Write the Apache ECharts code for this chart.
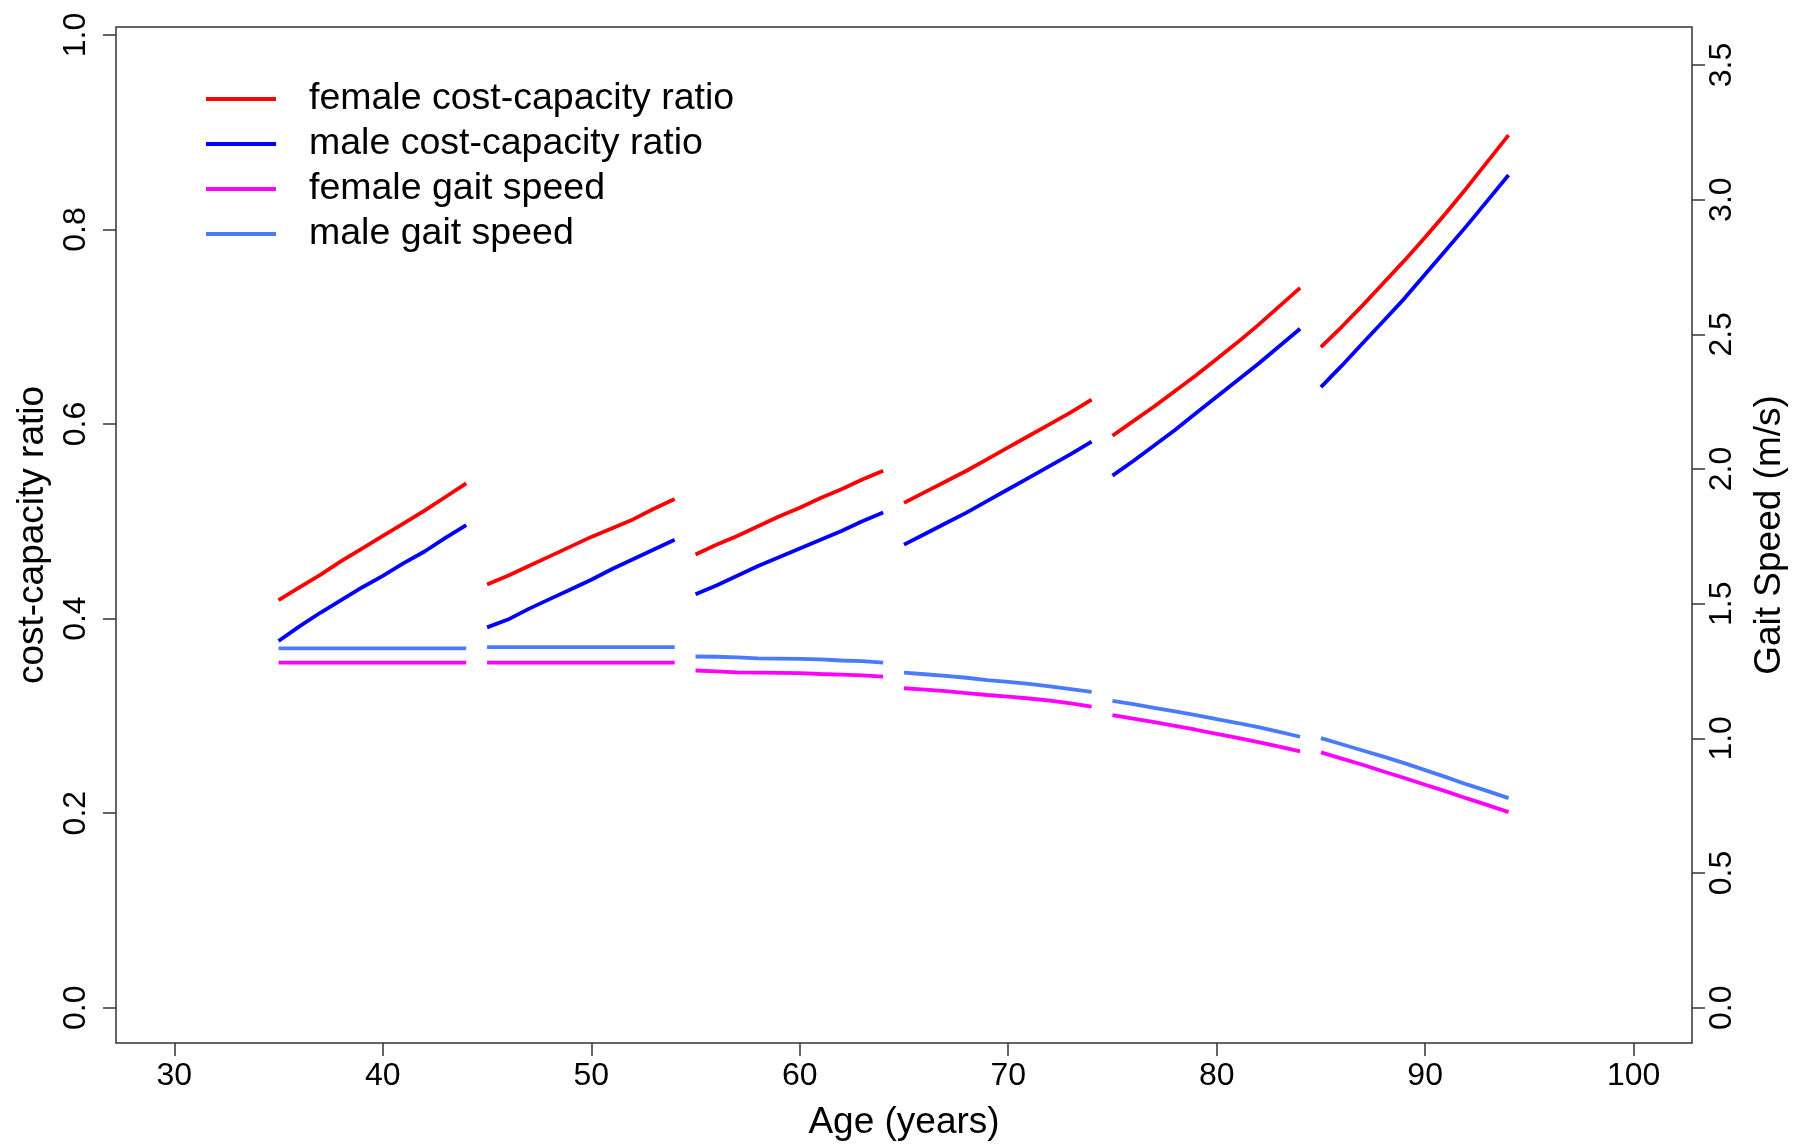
<!DOCTYPE html>
<html>
<head>
<meta charset="utf-8">
<script src="https://cdn.jsdelivr.net/npm/echarts@6/dist/echarts.min.js"></script>
<style>
html, body { margin: 0; padding: 0; background: #fff; }
#main { width: 1796px; height: 1146px; }
</style>
</head>
<body>
<div id="main"></div>
<script>
// ages, one point per year; each decade is drawn as its own piece
const ages = [
  35, 36, 37, 38, 39, 40, 41, 42, 43, 44,
  45, 46, 47, 48, 49, 50, 51, 52, 53, 54,
  55, 56, 57, 58, 59, 60, 61, 62, 63, 64,
  65, 66, 67, 68, 69, 70, 71, 72, 73, 74,
  75, 76, 77, 78, 79, 80, 81, 82, 83, 84,
  85, 86, 87, 88, 89, 90, 91, 92, 93, 94
];
const segmentStarts = [35, 45, 55, 65, 75, 85];

const femaleRatio = [
  0.419, 0.432, 0.445, 0.459, 0.472, 0.485, 0.498, 0.511, 0.525, 0.539,
  0.435, 0.444, 0.454, 0.464, 0.474, 0.484, 0.493, 0.502, 0.513, 0.523,
  0.466, 0.476, 0.485, 0.495, 0.505, 0.514, 0.524, 0.533, 0.543, 0.552,
  0.519, 0.530, 0.541, 0.552, 0.564, 0.576, 0.588, 0.600, 0.612, 0.625,
  0.588, 0.603, 0.618, 0.634, 0.650, 0.667, 0.684, 0.702, 0.721, 0.740,
  0.679, 0.700, 0.722, 0.745, 0.768, 0.792, 0.817, 0.843, 0.870, 0.897
];
const maleRatio = [
  0.377, 0.392, 0.406, 0.419, 0.432, 0.444, 0.457, 0.469, 0.483, 0.496,
  0.391, 0.399, 0.410, 0.420, 0.430, 0.440, 0.451, 0.461, 0.471, 0.481,
  0.425, 0.434, 0.444, 0.454, 0.463, 0.472, 0.481, 0.490, 0.500, 0.509,
  0.476, 0.487, 0.498, 0.509, 0.521, 0.533, 0.545, 0.557, 0.569, 0.582,
  0.547, 0.562, 0.578, 0.594, 0.611, 0.628, 0.645, 0.662, 0.680, 0.698,
  0.638, 0.660, 0.683, 0.706, 0.729, 0.754, 0.779, 0.804, 0.830, 0.856
];
const femaleGait = [
  1.281, 1.281, 1.281, 1.281, 1.281, 1.281, 1.281, 1.281, 1.281, 1.281,
  1.281, 1.281, 1.281, 1.281, 1.281, 1.281, 1.281, 1.281, 1.281, 1.281,
  1.252, 1.249, 1.245, 1.244, 1.243, 1.242, 1.239, 1.237, 1.234, 1.229,
  1.186, 1.181, 1.175, 1.168, 1.161, 1.155, 1.148, 1.140, 1.130, 1.118,
  1.086, 1.073, 1.060, 1.046, 1.032, 1.017, 1.002, 0.986, 0.969, 0.952,
  0.948, 0.925, 0.902, 0.877, 0.853, 0.828, 0.803, 0.777, 0.752, 0.726
];
const maleGait = [
  1.334, 1.334, 1.334, 1.334, 1.334, 1.334, 1.334, 1.334, 1.334, 1.334,
  1.339, 1.339, 1.339, 1.339, 1.339, 1.339, 1.339, 1.339, 1.339, 1.339,
  1.304, 1.303, 1.301, 1.297, 1.296, 1.295, 1.293, 1.289, 1.287, 1.281,
  1.244, 1.238, 1.232, 1.225, 1.216, 1.210, 1.202, 1.193, 1.183, 1.173,
  1.139, 1.127, 1.113, 1.100, 1.086, 1.071, 1.057, 1.042, 1.024, 1.006,
  1.001, 0.978, 0.955, 0.932, 0.908, 0.882, 0.856, 0.829, 0.804, 0.778
];

const ageTicks = [30, 40, 50, 60, 70, 80, 90, 100];
const ratioTicks = [0, 0.2, 0.4, 0.6, 0.8, 1.0];
const gaitTicks = [0, 0.5, 1.0, 1.5, 2.0, 2.5, 3.0, 3.5];

const FONT = "'Liberation Sans', Arial, sans-serif";

// pair ages with values, with a gap before each new decade
function toSegments(values) {
  const out = [];
  ages.forEach((a, i) => {
    if (i > 0 && segmentStarts.includes(a)) out.push([a - 0.5, '-']);
    out.push([a, values[i]]);
  });
  return out;
}

function lineSeries(name, values, color, axis) {
  return {
    name: name,
    type: 'line',
    yAxisIndex: axis,
    data: toSegments(values),
    showSymbol: false,
    symbol: 'none',
    connectNulls: false,
    color: color,
    lineStyle: { color: color, width: 3.8 },
    emphasis: { disabled: true },
    animation: false
  };
}

const axisLabelStyle = { fontFamily: FONT, fontSize: 32, color: '#000' };
const titleStyle = { fontFamily: FONT, fontSize: 37, color: '#000' };
const tickStyle = { show: true, inside: false, length: 13, lineStyle: { color: '#333', width: 1.5 } };

let myChart = echarts.init(document.getElementById('main'));
myChart.setOption({
  backgroundColor: '#fff',
  animation: false,
  grid: {
    left: 116, right: 101, top: 27, bottom: 99,
    show: true, borderColor: '#333', borderWidth: 1.5, backgroundColor: 'transparent'
  },
  legend: {
    orient: 'vertical',
    left: 206, top: 80,
    padding: 0,
    itemWidth: 70, itemHeight: 4,
    itemGap: 7,
    icon: 'rect',
    textStyle: { fontFamily: FONT, fontSize: 37.5, lineHeight: 38, color: '#000', padding: [0, 0, 0, 28] },
    data: ['female cost-capacity ratio', 'male cost-capacity ratio', 'female gait speed', 'male gait speed']
  },
  xAxis: {
    type: 'value',
    min: 27.2, max: 102.8,
    name: 'Age (years)',
    nameLocation: 'middle',
    nameGap: 61,
    nameTextStyle: titleStyle,
    axisLine: { show: false, onZero: false },
    axisTick: Object.assign({ customValues: ageTicks }, tickStyle),
    axisLabel: Object.assign({ customValues: ageTicks, margin: 17 }, axisLabelStyle),
    splitLine: { show: false }
  },
  yAxis: [
    {
      type: 'value',
      position: 'left',
      min: -0.0363, max: 1.0082,
      name: 'cost-capacity ratio',
      nameLocation: 'middle',
      nameRotate: 90,
      nameGap: 65,
      nameTextStyle: titleStyle,
      axisLine: { show: false, onZero: false },
      axisTick: Object.assign({ customValues: ratioTicks }, tickStyle),
      axisLabel: Object.assign({
        customValues: ratioTicks, rotate: 90, margin: 24,
        formatter: v => v.toFixed(1)
      }, axisLabelStyle),
      splitLine: { show: false }
    },
    {
      type: 'value',
      position: 'right',
      min: -0.131, max: 3.641,
      name: 'Gait Speed (m/s)',
      nameLocation: 'middle',
      nameRotate: 90,
      nameGap: 59,
      nameTextStyle: titleStyle,
      axisLine: { show: false, onZero: false },
      axisTick: Object.assign({ customValues: gaitTicks }, tickStyle),
      axisLabel: Object.assign({
        customValues: gaitTicks, rotate: 90, margin: 14,
        formatter: v => v.toFixed(1)
      }, axisLabelStyle),
      splitLine: { show: false }
    }
  ],
  series: [
    lineSeries('female cost-capacity ratio', femaleRatio, '#ff0000', 0),
    lineSeries('male cost-capacity ratio', maleRatio, '#0000ff', 0),
    lineSeries('female gait speed', femaleGait, '#ff00ff', 1),
    lineSeries('male gait speed', maleGait, '#4a7bff', 1)
  ]
});
</script>
</body>
</html>
